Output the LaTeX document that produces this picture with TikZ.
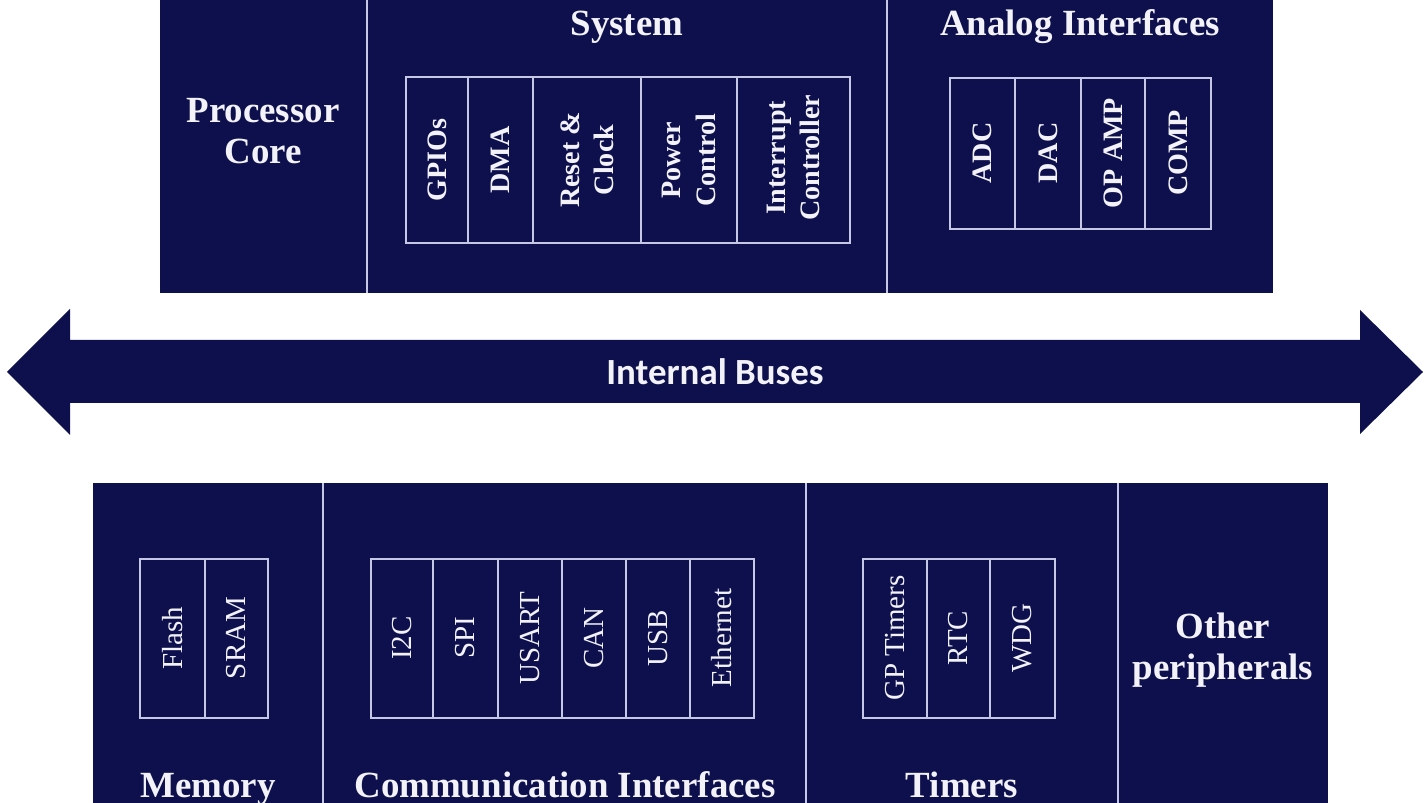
\documentclass[tikz,border=0pt]{standalone}
\usepackage{fontspec}
\setmainfont{Liberation Serif}
\newfontfamily\busfont{Carlito}
\definecolor{chipnavy}{RGB}{14,16,78}
\definecolor{celline}{RGB}{196,200,228}
\definecolor{chiptext}{RGB}{242,242,248}

\begin{document}
\begin{tikzpicture}[x=0.02cm, y=-0.02cm,
    block/.style={fill=chipnavy},
    sepline/.style={draw=celline, line width=0.9pt},
    title/.style={text=chiptext, font=\fontsize{21}{23}\selectfont\bfseries, anchor=base, align=center, inner sep=0pt},
    vbold/.style={text=chiptext, rotate=90, align=center, inner sep=0pt, font=\fontsize{16}{19.5}\selectfont\bfseries},
    vreg/.style={text=chiptext, rotate=90, inner sep=0pt, font=\fontsize{16.5}{19}\selectfont}]
    \useasboundingbox (0,0) rectangle (1427,803);

    % upper block
    \fill[block] (160,0) rectangle (1273,293);
    \draw[sepline] (367,0) -- (367,293);
    \draw[sepline] (887,0) -- (887,293);

    \node[title, anchor=center] (core) at (263,131) {Processor\\Core};
    \node[title] (sys) at (627,36) {System};
    \node[title] (ana) at (1080,36) {Analog Interfaces};

    \draw[sepline] (406,77) rectangle (850,243)
        (468,77) -- (468,243) (533,77) -- (533,243)
        (641,77) -- (641,243) (737,77) -- (737,243);
    \node[vbold] (gpio) at (437,160) {GPIOs};
    \node[vbold] (dma) at (500.5,160) {DMA};
    \node[vbold] (rst) at (587,160) {Reset \&\\Clock};
    \node[vbold] (pwr) at (689,160) {Power\\Control};
    \node[vbold] (irq) at (793.5,158) {Interrupt\\Controller};

    \draw[sepline] (950,78) rectangle (1211,229)
        (1015,78) -- (1015,229) (1081,78) -- (1081,229)
        (1145,78) -- (1145,229);
    \node[vbold] (adc) at (982.5,153) {ADC};
    \node[vbold] (dac) at (1048,153) {DAC};
    \node[vbold] (opamp) at (1113,153) {OP AMP};
    \node[vbold] (comp) at (1178,153) {COMP};

    % bus arrow
    \fill[chipnavy] (7,372) -- (70,309) -- (70,340) -- (1360,340) -- (1360,310)
        -- (1423,372) -- (1360,434) -- (1360,403) -- (70,403) -- (70,435) -- cycle;
    \node[text=chiptext, font=\busfont\fontsize{21}{24}\selectfont\bfseries] (bus) at (715,372) {Internal Buses};

    % lower block
    \fill[block] (93,483) rectangle (1328,803);
    \draw[sepline] (323,483) -- (323,803);
    \draw[sepline] (806,483) -- (806,803);
    \draw[sepline] (1118,483) -- (1118,803);

    \draw[sepline] (140,559) rectangle (268,718) (205,559) -- (205,718);
    \node[vreg] (flash) at (172.5,638) {Flash};
    \node[vreg] (sram) at (236.5,638) {SRAM};

    \draw[sepline] (371,559) rectangle (754,718)
        (433,559) -- (433,718) (498,559) -- (498,718) (562,559) -- (562,718)
        (626,559) -- (626,718) (690,559) -- (690,718);
    \node[vreg] (i2c) at (402,638) {I2C};
    \node[vreg] (spi) at (465.5,638) {SPI};
    \node[vreg] (usart) at (530,638) {USART};
    \node[vreg] (can) at (594,638) {CAN};
    \node[vreg] (usb) at (658,638) {USB};
    \node[vreg] (eth) at (722,638) {Ethernet};

    \draw[sepline] (863,559) rectangle (1055,718)
        (927,559) -- (927,718) (990,559) -- (990,718);
    \node[vreg] (gpt) at (895,638) {GP Timers};
    \node[vreg] (rtc) at (958.5,638) {RTC};
    \node[vreg] (wdg) at (1022.5,638) {WDG};

    \node[title] (mem) at (208,797) {Memory};
    \node[title] (comm) at (565,797) {Communication Interfaces};
    \node[title] (tim) at (962,797) {Timers};
    \node[title, anchor=center] (oth) at (1223,650) {Other\\peripherals};
\end{tikzpicture}
\end{document}
